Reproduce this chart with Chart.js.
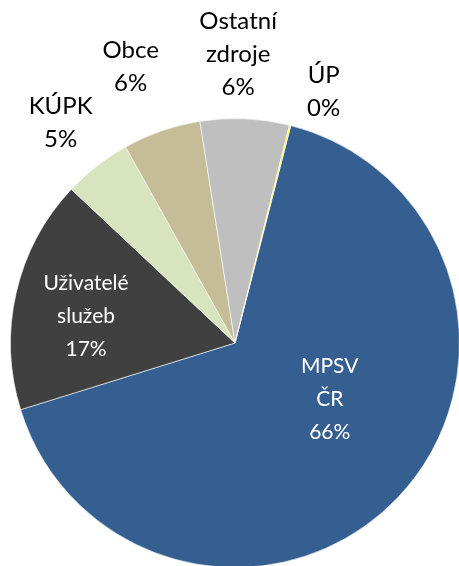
<!DOCTYPE html>
<html>
<head>
<meta charset="utf-8">
<script src="https://cdn.jsdelivr.net/npm/chart.js@4"></script>
<style>
  html, body { margin: 0; padding: 0; background: #fff; overflow: hidden; }
  #wrap { position: relative; width: 470px; height: 570px; }
</style>
</head>
<body>
<div id="wrap"><canvas id="pie"></canvas></div>
<script>
// data
const labels = [['MPSV', 'ČR'], ['Uživatelé', 'služeb'], ['KÚPK'], ['Obce'], ['Ostatní', 'zdroje'], ['ÚP']];
const values = [66.2, 16.8, 4.9, 5.6, 6.4, 0.1];
const colors = ['#355f91', '#404040', '#d7e4bd', '#c4bd97', '#bfbfbf', '#ffff00'];
const textColors = ['#ffffff', '#ffffff', '#000000', '#000000', '#000000', '#000000'];
// label placement: angle offset from slice middle (deg), distance as share of radius
const labelAngle = [-13, -2.8, -0.4, -1.6, -1.9, 5.2];
const labelDist = [0.49, 0.674, 1.251, 1.316, 1.288, 1.188];
const labelFont = ['21px Lato', '21px Lato', '24px Lato', '24px Lato', '24px Lato', '24px Lato'];

const total = values.reduce((s, v) => s + v, 0);

const sliceLabels = {
    id: 'sliceLabels',
    afterDatasetsDraw(chart) {
        const ctx = chart.ctx;
        const arcs = chart.getDatasetMeta(0).data;
        ctx.save();
        ctx.textAlign = 'center';
        ctx.textBaseline = 'middle';
        arcs.forEach((arc, i) => {
            const mid = (arc.startAngle + arc.endAngle) / 2 + labelAngle[i] * Math.PI / 180;
            const r = arc.outerRadius * labelDist[i];
            const x = arc.x + Math.cos(mid) * r;
            const y = arc.y + Math.sin(mid) * r;
            const lines = labels[i].concat([Math.round(values[i] / total * 100) + '%']);
            const lh = 33;
            ctx.font = labelFont[i];
            ctx.fillStyle = textColors[i];
            lines.forEach((t, k) => {
                ctx.fillText(t, x, y + (k - (lines.length - 1) / 2) * lh);
            });
        });
        ctx.restore();
    }
};

new Chart(document.getElementById('pie'), {
    type: 'pie',
    data: {
        labels: labels.map(l => l.join(' ')),
        datasets: [{
            data: values,
            backgroundColor: colors,
            borderColor: 'rgba(255,255,255,0.6)',
            borderWidth: 1,
            hoverOffset: 0
        }]
    },
    options: {
        responsive: true,
        maintainAspectRatio: false,
        animation: false,
        rotation: 14.4,
        layout: { padding: { left: 10, right: 10, top: 118, bottom: 2 } },
        plugins: { legend: { display: false }, tooltip: { enabled: false } }
    },
    plugins: [sliceLabels]
});
</script>
</body>
</html>
